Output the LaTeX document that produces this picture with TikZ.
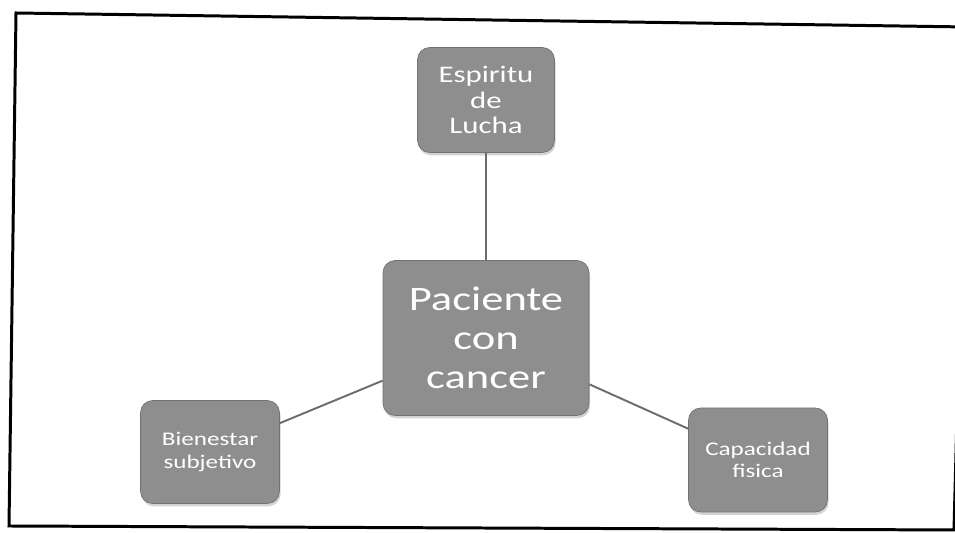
\documentclass[tikz,border=0pt]{standalone}
\usepackage{fontspec}
\newfontfamily\boxfont[FakeStretch=1.3]{Carlito}
\usetikzlibrary{shadows}
\definecolor{boxgray}{HTML}{8E8E8E}
\definecolor{boxedge}{HTML}{727272}
\definecolor{linegray}{HTML}{6C6C6C}
\begin{document}
\begin{tikzpicture}
[
ideabox/.style={rectangle, rounded corners=7pt, draw=boxedge, fill=boxgray, text=white, align=center, inner sep=0pt, drop shadow={shadow xshift=0.6pt, shadow yshift=-1.6pt, opacity=0.35}},
link/.style={draw=linegray, line width=1.1pt}
]
\useasboundingbox (0,0) rectangle (19.1,10.66);
%Frame
\draw[line width=1.7pt] (0.32,10.40) -- (19.34,10.12) -- (19.08,0.06) -- (0.18,0.14) -- cycle;
%Nodes
\node[ideabox, minimum width=4.12cm, minimum height=3.10cm, font=\boxfont\fontsize{19.5}{22}\selectfont] at(9.72,3.90)	(pac) {Paciente\\con\\cancer};
\node[ideabox, minimum width=2.74cm, minimum height=2.10cm, font=\boxfont\fontsize{13.5}{14.5}\selectfont] at(9.72,8.66)	(esp) {Espiritu\\de\\Lucha};
\node[ideabox, minimum width=2.78cm, minimum height=2.06cm, font=\boxfont\fontsize{11}{13}\selectfont] at(4.20,1.62)	(bien) {Bienestar\\subjetivo};
\node[ideabox, minimum width=2.78cm, minimum height=2.08cm, font=\boxfont\fontsize{11}{12.5}\selectfont] at(15.16,1.46)	(cap) {Capacidad\\fisica};
%Links
\draw[link] (esp) -- (pac);
\draw[link] (pac) -- (bien);
\draw[link] (pac) -- (cap);

\end{tikzpicture}
\end{document}
